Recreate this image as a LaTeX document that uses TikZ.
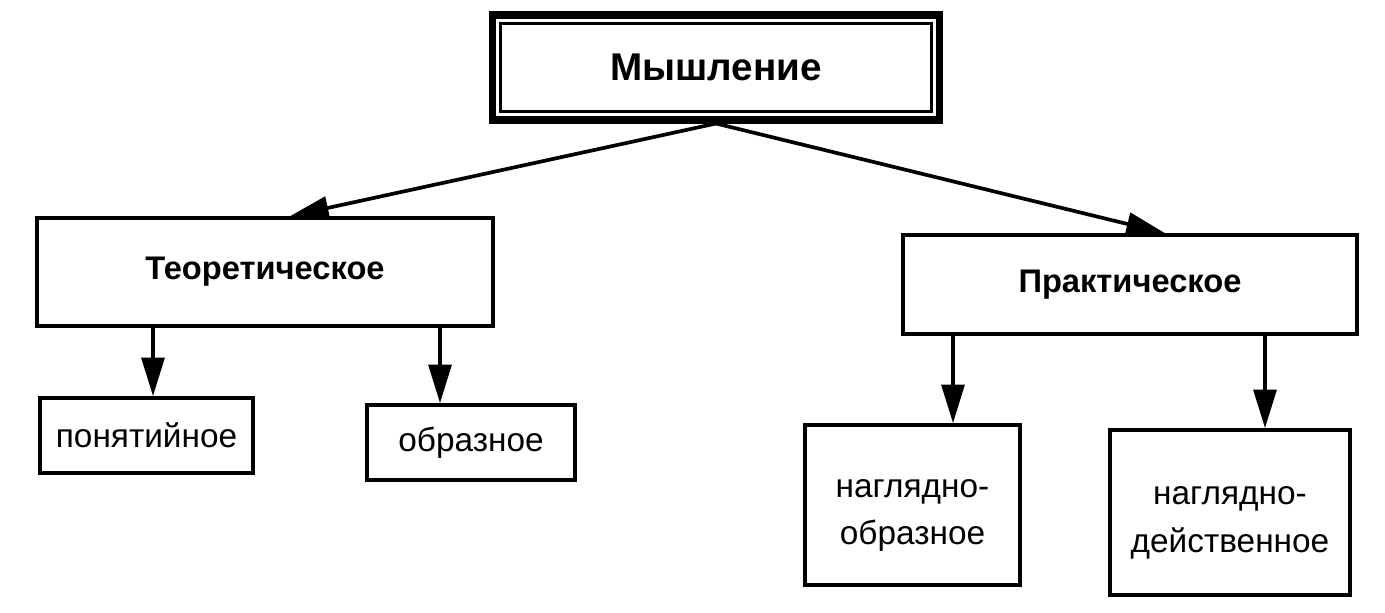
\documentclass[tikz,border=0pt]{standalone}
\usepackage{fontspec}
\setmainfont{Liberation Sans}
\usetikzlibrary{arrows.meta,calc}
\begin{document}
\begin{tikzpicture}[x=0.02cm,y=-0.02cm,
  box/.style={draw, line width=2.1pt, inner sep=0pt, align=center},
  midtxt/.style={font=\fontsize{18.6}{22}\selectfont\bfseries},
  lowtxt/.style={font=\fontsize{19}{27}\selectfont},
  arr/.style={-{Triangle[length=22pt,width=13pt]}, line width=2.1pt}]
\useasboundingbox (0,0) rectangle (1385,612);
% top
\node[draw, line width=4pt, minimum width=8.96cm, minimum height=2.1cm,
      font=\fontsize{22}{26}\selectfont\bfseries] (top) at (716,67.5) {Мышление};
\draw[line width=1.6pt] ($(top.south west)+(12,-12)$) rectangle ($(top.north east)+(-12,12)$);
% second level
\node[box, midtxt, minimum width=9.12cm, minimum height=2.16cm] (theo) at (265,272) {Теоретическое};
\node[box, midtxt, minimum width=9.08cm, minimum height=1.98cm] (prac) at (1130,284.5) {Практическое};
% third level
\node[box, lowtxt, minimum width=4.26cm, minimum height=1.5cm] (pon) at (146.5,435.5) {понятийное};
\node[box, lowtxt, minimum width=4.16cm, minimum height=1.5cm] (obr) at (471,442.5) {образное};
\node[box, lowtxt, minimum width=4.3cm, minimum height=3.2cm] (nob) at (912.5,505) {\rule{0pt}{0.77cm}наглядно-\\образное};
\node[box, lowtxt, minimum width=4.8cm, minimum height=3.3cm] (nd) at (1230,512.5) {\rule{0pt}{0.77cm}наглядно-\\действенное};
% arrows
\coordinate (a1) at ([xshift=0.5cm]theo.north);
\coordinate (a2) at ([xshift=0.7cm]prac.north);
\draw[arr] (top.south) -- (a1);
\draw[arr] (top.south) -- (a2);
\coordinate (b1) at ([xshift=0.13cm]pon.north);
\coordinate (b2) at ([xshift=-0.62cm]obr.north);
\coordinate (b3) at ([xshift=0.81cm]nob.north);
\coordinate (b4) at ([xshift=0.7cm]nd.north);
\draw[arr] (theo.south -| b1) -- (b1);
\draw[arr] (theo.south -| b2) -- (b2);
\draw[arr] (prac.south -| b3) -- (b3);
\draw[arr] (prac.south -| b4) -- (b4);
\end{tikzpicture}
\end{document}
